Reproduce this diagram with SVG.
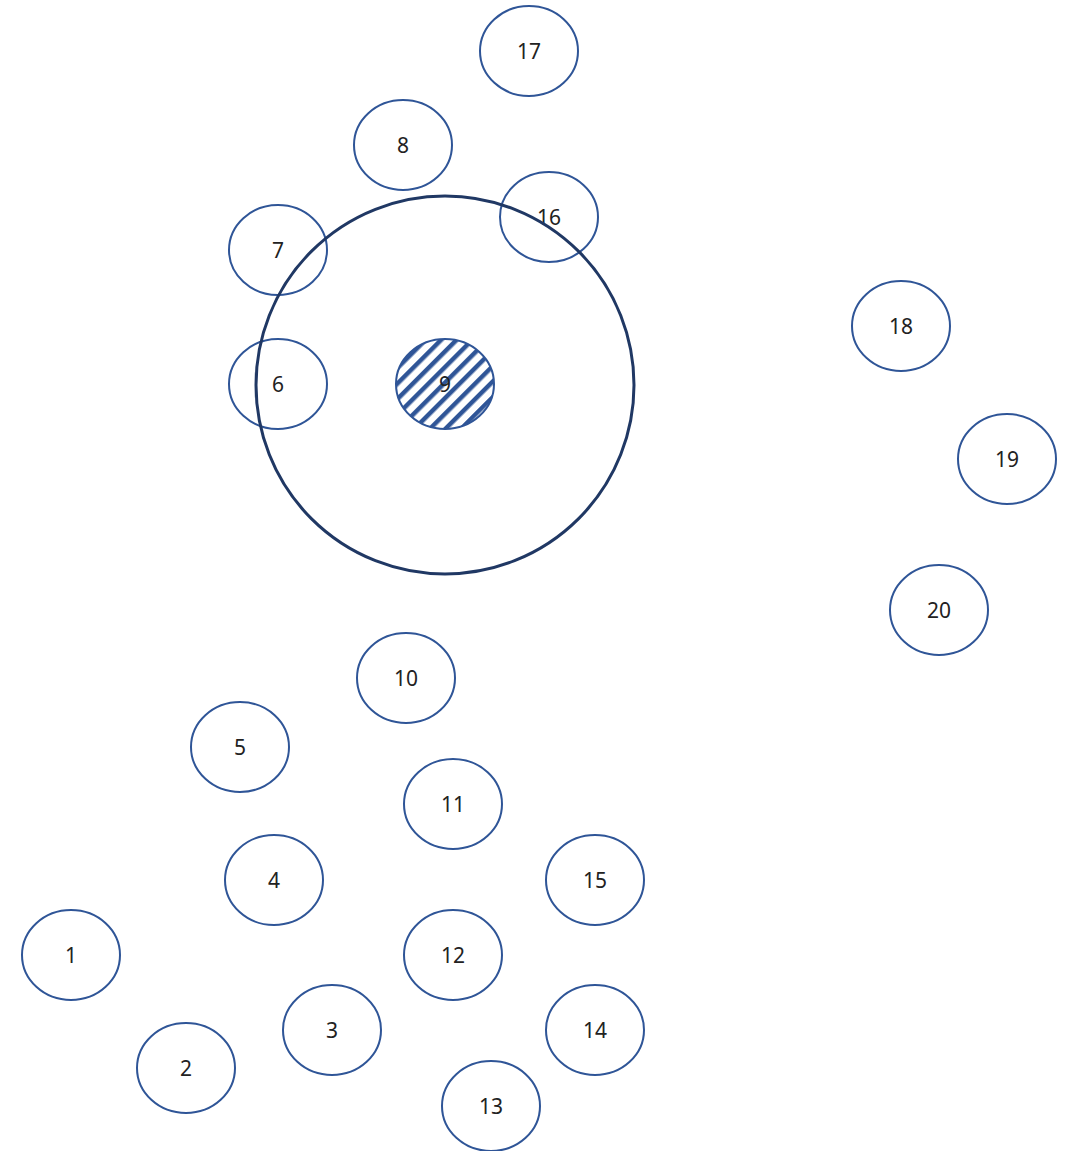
<svg xmlns="http://www.w3.org/2000/svg" width="1068" height="1151" viewBox="0 0 1068 1151">
<defs>
<pattern id="hatch" patternUnits="userSpaceOnUse" width="11" height="11" patternTransform="rotate(45)">
<rect width="11" height="11" fill="#ffffff"/>
<rect x="0" y="0" width="4.5" height="11" fill="#2F5597"/>
</pattern>
</defs>
<style>
.n ellipse{fill:#ffffff;stroke:#2F5597;stroke-width:2}
.n text{font-family:"Noto Sans","Liberation Sans",sans-serif;font-size:21px;fill:#222222;text-anchor:middle;dominant-baseline:central}
.big{fill:none;stroke:#203864;stroke-width:3}
</style>
<rect width="1068" height="1151" fill="#ffffff"/>
<g id="node-17" class="n"><ellipse cx="529" cy="51" rx="49" ry="45"/><text x="529" y="51">17</text></g>
<g id="node-8" class="n"><ellipse cx="403" cy="145" rx="49" ry="45"/><text x="403" y="145">8</text></g>
<g id="node-16" class="n"><ellipse cx="549" cy="217" rx="49" ry="45"/><text x="549" y="217">16</text></g>
<g id="node-7" class="n"><ellipse cx="278" cy="250" rx="49" ry="45"/><text x="278" y="250">7</text></g>
<g id="node-6" class="n"><ellipse cx="278" cy="384" rx="49" ry="45"/><text x="278" y="384">6</text></g>
<g id="node-9" class="n"><ellipse cx="445" cy="384" rx="49" ry="45" style="fill:url(#hatch)"/><text x="445" y="384">9</text></g>
<g id="node-18" class="n"><ellipse cx="901" cy="326" rx="49" ry="45"/><text x="901" y="326">18</text></g>
<g id="node-19" class="n"><ellipse cx="1007" cy="459" rx="49" ry="45"/><text x="1007" y="459">19</text></g>
<g id="node-20" class="n"><ellipse cx="939" cy="610" rx="49" ry="45"/><text x="939" y="610">20</text></g>
<g id="node-10" class="n"><ellipse cx="406" cy="678" rx="49" ry="45"/><text x="406" y="678">10</text></g>
<g id="node-5" class="n"><ellipse cx="240" cy="747" rx="49" ry="45"/><text x="240" y="747">5</text></g>
<g id="node-11" class="n"><ellipse cx="453" cy="804" rx="49" ry="45"/><text x="453" y="804">11</text></g>
<g id="node-4" class="n"><ellipse cx="274" cy="880" rx="49" ry="45"/><text x="274" y="880">4</text></g>
<g id="node-15" class="n"><ellipse cx="595" cy="880" rx="49" ry="45"/><text x="595" y="880">15</text></g>
<g id="node-1" class="n"><ellipse cx="71" cy="955" rx="49" ry="45"/><text x="71" y="955">1</text></g>
<g id="node-12" class="n"><ellipse cx="453" cy="955" rx="49" ry="45"/><text x="453" y="955">12</text></g>
<g id="node-3" class="n"><ellipse cx="332" cy="1030" rx="49" ry="45"/><text x="332" y="1030">3</text></g>
<g id="node-14" class="n"><ellipse cx="595" cy="1030" rx="49" ry="45"/><text x="595" y="1030">14</text></g>
<g id="node-2" class="n"><ellipse cx="186" cy="1068" rx="49" ry="45"/><text x="186" y="1068">2</text></g>
<g id="node-13" class="n"><ellipse cx="491" cy="1106" rx="49" ry="45"/><text x="491" y="1106">13</text></g>
<g id="connectors"></g>
<g id="region"><circle class="big" cx="445" cy="385" r="189"/></g>
</svg>
